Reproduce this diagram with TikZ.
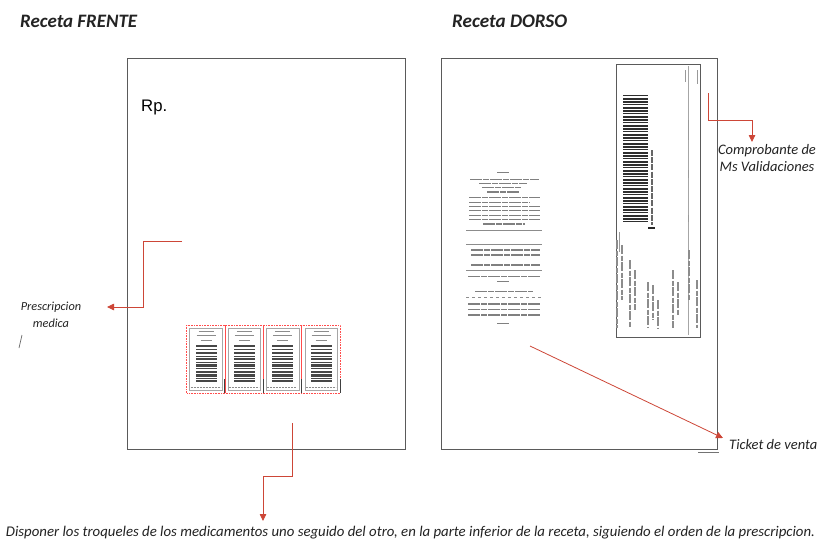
\documentclass[tikz,border=0pt]{standalone}
\usepackage{fontspec}
\setmainfont{Carlito}
\newfontfamily\arialf{Liberation Sans}
\usetikzlibrary{arrows.meta}
\definecolor{arrowred}{RGB}{205,70,55}
\definecolor{txt}{RGB}{35,35,35}
\definecolor{pageline}{RGB}{90,90,90}
\tikzset{
  pagebox/.style={draw=pageline, line width=0.9pt, inner sep=0pt, outer sep=0pt, anchor=north west},
  callout/.style={draw=arrowred, line width=0.8pt, -{Triangle[length=7pt,width=6.5pt,fill=arrowred]}},
  lbl/.style={inner sep=0pt, text=txt, font=\itshape},
  ttl/.style={inner sep=0pt, text=txt, font=\bfseries\itshape, anchor=west},
  rline/.style={draw=black!50, line width=1.3pt, dash pattern=on 12pt off 1pt on 6pt off 1pt},
  rsep/.style={draw=black!45, line width=0.6pt},
  vline/.style={draw=black!45, line width=1.3pt, dash pattern=on 9pt off 1.5pt on 5pt off 1.5pt},
}
\begin{document}
\begin{tikzpicture}[x=1pt,y=-1pt]
\useasboundingbox (0,0) rectangle (821,546);
\fill[white] (0,0) rectangle (821,546);

% titles
\node[ttl] (tfrente) at (20,21) {\resizebox{117pt}{!}{\fontsize{18}{20}\selectfont\bfseries\itshape Receta FRENTE}};
\node[ttl] (tdorso) at (452,21) {\resizebox{115pt}{!}{\fontsize{18}{20}\selectfont\bfseries\itshape Receta DORSO}};

% pages
\node[pagebox, minimum width=278pt, minimum height=391pt] (front) at (127,58) {};
\node[pagebox, minimum width=276pt, minimum height=391pt] (back) at (441,58) {};

% Rp.
\node[inner sep=0pt, anchor=west] (rp) at (141,107) {\resizebox{26pt}{!}{\arialf Rp.}};

% stamps (troqueles)
\foreach \i in {0,1,2,3}{
  \pgfmathsetmacro\xo{186.5+38.4*\i}
  \draw[red!70, densely dotted, line width=0.6pt] (\xo,325) rectangle ++(38.4,68);
  \draw[black!35, line width=0.3pt] (\xo+3,328) rectangle ++(32.4,62);
  \draw[black!45, line width=1pt] (\xo+12,331) -- ++(15,0);
  \draw[black!45, line width=1pt] (\xo+10,335) -- ++(19,0);
  \draw[black!45, line width=1pt] (\xo+14,340) -- ++(11,0);
  \foreach \yy/\hh in {345/2.2,348.5/1.5,351.5/2.6,355.5/1.2,358/2.2,361.5/1.5,364/2.6,368/1.2,370.5/2.2,373.5/3,377.5/1.5,380/2.4}{
    \fill[black!72] (\xo+9,\yy) rectangle ++(21,\hh);
  }
  \draw[black!45, line width=0.8pt, dash pattern=on 2pt off 1pt] (\xo+4,387) -- ++(30,0);
}
\foreach \i in {1,2,3,4}{
  \draw[black!75, line width=1.1pt] (186.5+38.4*\i,379) -- ++(0,14);
}

% sales ticket on back
\foreach \yy/\xa/\xb in {172.7/497/509, 179.3/470/539, 183.3/479/527, 187.3/482/521, 192/487/519,
  197.3/469/540, 202.7/469/530, 206.7/469/540, 210.7/469/540, 215.3/469/540, 219.3/469/540, 224/483/525,
  250/471/540, 255/471/540, 265/471/540, 276.7/468/541, 281.7/497/510, 291.7/475/533,
  304/468/541, 309.3/468/541, 315/468/541, 323.3/497/510}{
  \draw[rline] (\xa,\yy) -- (\xb,\yy);
}
\draw[rsep] (466,230) -- (542,230);
\draw[rsep] (466,244) -- (542,244);
\draw[rsep] (466,270) -- (542,270);
\draw[rsep, dashed] (466,297) -- (542,297);

% comprobante de validaciones
\node[pagebox, minimum width=84pt, minimum height=273pt, line width=0.8pt] (comp) at (616,64) {};
\foreach \i in {0,...,42}{
  \pgfmathsetmacro\yy{95+3*\i}
  \pgfmathsetmacro\ww{mod(\i*7,3)*0.6+0.9}
  \fill[black!82] (623,\yy) rectangle (648,\yy+\ww);
}
\draw[black!60, line width=2pt, dash pattern=on 6pt off 1.2pt] (652,150) -- (652,225);
\draw[black!85, line width=1.2pt] (648,228) -- (655,228);
\draw[black!35, line width=0.5pt] (688,66) -- (688,335);
\draw[black!40, line width=1pt] (685,70) -- (685,82);
\draw[black!40, line width=1pt] (697,70) -- (697,84);
\draw[black!40, line width=1pt] (688,120) -- (688,140);
\draw[black!40, line width=1pt] (688,170) -- (688,178);
\draw[black!40, line width=1pt] (688,215) -- (688,222);
\foreach \xx/\ya/\yb in {617/240/328, 622/245/300, 630/260/328, 635/270/310, 648/282/328, 653/285/320,
  658/300/328, 673/270/328, 678/282/315, 689/250/300, 697/280/328}{
  \draw[vline] (\xx,\ya) -- (\xx,\yb);
}
\draw[black!40, line width=1pt] (619,232) -- (619,252);

% labels
\node[lbl, align=center, font=\fontsize{12.3}{17}\selectfont\itshape] (presc) at (51,315) {Prescripcion\\medica};
\draw[black!60, line width=0.7pt] (19,348) -- (22,335);
\node[lbl, align=center, font=\fontsize{14.5}{17}\selectfont\itshape] (compl) at (767,158) {Comprobante de\\Ms Validaciones};
\node[lbl, anchor=west] (ticket) at (729,445) {\resizebox{88pt}{!}{\fontsize{14}{16}\selectfont\itshape Ticket de venta}};
\draw[black!55, line width=0.7pt] (698,452) -- (719,452);
\node[lbl] (note) at (410.5,533) {\resizebox{809pt}{!}{\fontsize{13}{15}\selectfont\itshape Disponer los troqueles de los medicamentos uno seguido del otro, en la parte inferior de la receta, siguiendo el orden de la prescripcion.}};

% connectors
\coordinate (pA) at (182,241);
\coordinate (pB) at (143,241);
\coordinate (pC) at (143,307);
\coordinate (pD) at (107,307);
\draw[callout] (pA) -- (pB) -- (pC) -- (pD);

\coordinate (bA) at (292,423);
\coordinate (bB) at (292,476);
\coordinate (bC) at (263,476);
\coordinate (bD) at (263,521);
\draw[callout] (bA) -- (bB) -- (bC) -- (bD);

\coordinate (tA) at (530,346);
\coordinate (tB) at (723,438);
\draw[callout] (tA) -- (tB);

\coordinate (cA) at (708,93);
\coordinate (cB) at (708,120);
\coordinate (cC) at (752,120);
\coordinate (cD) at (752,142);
\draw[callout] (cA) -- (cB) -- (cC) -- (cD);
\end{tikzpicture}
\end{document}
